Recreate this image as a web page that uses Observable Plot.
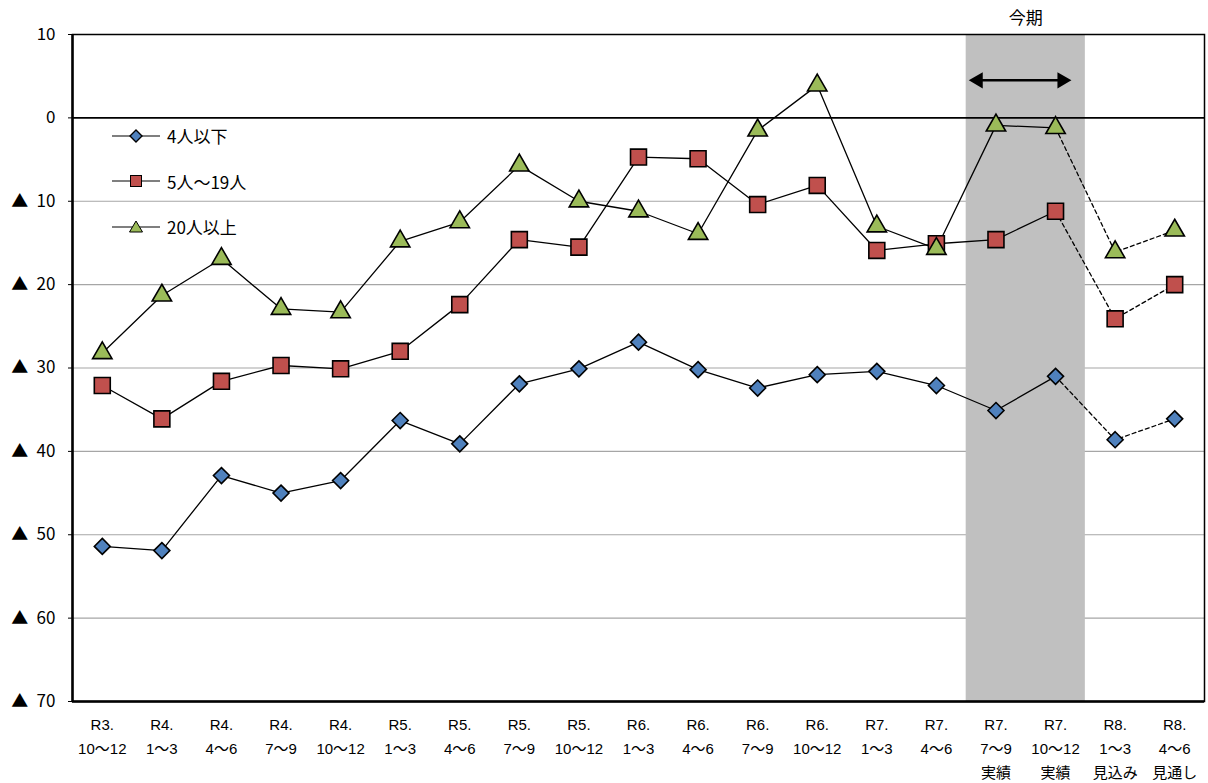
<!DOCTYPE html>
<html>
<head>
<meta charset="utf-8">
<script src="https://cdn.jsdelivr.net/npm/d3@7"></script>
<script src="https://cdn.jsdelivr.net/npm/@observablehq/plot@0.6"></script>
<style>
  body { margin: 0; background: #fff; }
  #wrap { position: relative; width: 1208px; height: 783px; font-family: "Liberation Sans", "Noto Sans CJK JP", sans-serif; }
  .legend { position: absolute; left: 112px; top: 113px; font-size: 17px; color: #000; font-family: "Noto Sans CJK JP", sans-serif; }
  .legend .row { display: flex; align-items: center; height: 45.5px; }
  .legend svg { margin-right: 6px; }
  #wrap g[aria-label^="y-axis"], #wrap g[aria-label^="y-axis"] text { font-family: "Noto Sans CJK JP", sans-serif; font-size: 17px; }
</style>
</head>
<body>
<div id="wrap"></div>
<script>
// ---- data ----
const categories = [
  "R3.\n10～12", "R4.\n1～3", "R4.\n4～6", "R4.\n7～9", "R4.\n10～12",
  "R5.\n1～3", "R5.\n4～6", "R5.\n7～9", "R5.\n10～12",
  "R6.\n1～3", "R6.\n4～6", "R6.\n7～9", "R6.\n10～12",
  "R7.\n1～3", "R7.\n4～6", "R7.\n7～9\n実績", "R7.\n10～12\n実績",
  "R8.\n1～3\n見込み", "R8.\n4～6\n見通し"
];
const seriesNames = ["4人以下", "5人～19人", "20人以上"];
const small = [-51.4, -51.9, -42.9, -45.0, -43.5, -36.3, -39.1, -31.9, -30.1, -26.9, -30.2, -32.4, -30.8, -30.4, -32.1, -35.1, -31.0, -38.6, -36.1];
const medium = [-32.1, -36.1, -31.6, -29.7, -30.1, -28.0, -22.4, -14.6, -15.5, -4.7, -4.9, -10.4, -8.1, -15.9, -15.1, -14.6, -11.2, -24.1, -20.0];
const large = [-28.2, -21.3, -16.9, -22.9, -23.3, -14.8, -12.5, -5.7, -10.0, -11.2, -13.9, -1.5, 3.9, -13.0, -15.7, -0.9, -1.2, -16.1, -13.5];
const yTicks = [10, 0, -10, -20, -30, -40, -50, -60, -70];
const gridTicks = [-10, -20, -30, -40, -50, -60];
const currentPeriod = ["R7.\n7～9\n実績", "R7.\n10～12\n実績"];
const currentLabel = "今期";
const lastActual = "R7.\n10～12\n実績";
const arrowSpan = [{x1: 14.70, x2: 16.11, y: 4.5}];

const symbols = ["diamond2", "square", "triangle"];
const fills = ["#4F81BD", "#C0504D", "#9BBB59"];
const radii = [7.2, 9.0, 7.2];

// ---- build tables ----
const allSeries = [small, medium, large];
const lastIdx = categories.indexOf(lastActual);
const rows = [];
allSeries.forEach((vals, s) => vals.forEach((v, i) => rows.push({i, v, s: seriesNames[s], k: s})));
const solid = rows.filter(d => d.i <= lastIdx);
const dashed = rows.filter(d => d.i >= lastIdx);
const band = currentPeriod.map(c => categories.indexOf(c));
const bandRect = [{x1: d3.min(band) - 0.5, x2: d3.max(band) + 0.5}];
const catRows = categories.map((c, i) => ({i, c}));

const fontFam = '"Liberation Sans", "Noto Sans CJK JP", sans-serif';

const chart = Plot.plot({
  width: 1208,
  height: 783,
  marginLeft: 72,
  marginRight: 4,
  marginTop: 34,
  marginBottom: 82,
  style: {fontFamily: fontFam, fontSize: "17px", background: "#fff", overflow: "visible"},
  x: {domain: [-0.5, categories.length - 0.5], axis: null},
  y: {
    domain: [-70, 10],
    ticks: yTicks,
    tickFormat: d => d < 0 ? "▲\u2002" + (-d) : String(d),
    tickSize: 4,
    tickPadding: 13,
    label: null
  },
  marks: [
    Plot.ruleY(gridTicks, {stroke: "#a6a6a6", strokeWidth: 1.2}),
    Plot.rect(bandRect, {x1: "x1", x2: "x2", y1: -70, y2: 10, fill: "#c0c0c0"}),
    Plot.ruleY([0], {stroke: "#000", strokeWidth: 1.6}),
    Plot.frame({stroke: "#000", strokeWidth: 1.5}),
    Plot.ruleX([-0.5], {stroke: "#000", strokeWidth: 2.5}),
    Plot.ruleY([-70], {stroke: "#000", strokeWidth: 2.5}),
    // current period annotation
    Plot.text(bandRect, {x: d => (d.x1 + d.x2) / 2, y: 10, text: () => currentLabel, dy: -16, fontSize: 17, fontFamily: "Noto Sans CJK JP", fill: "#000"}),
    Plot.link(arrowSpan, {x1: "x1", x2: "x2", y1: "y", y2: "y", stroke: "#000", strokeWidth: 2.5}),
    Plot.dot(arrowSpan, {x: "x1", y: "y", symbol: "triangle", r: 6, fill: "#000", stroke: "none", rotate: -90}),
    Plot.dot(arrowSpan, {x: "x2", y: "y", symbol: "triangle", r: 6, fill: "#000", stroke: "none", rotate: 90}),
    // lines
    Plot.line(solid, {x: "i", y: "v", z: "s", stroke: "#000", strokeWidth: 1.3}),
    Plot.line(dashed, {x: "i", y: "v", z: "s", stroke: "#000", strokeWidth: 1.3, strokeDasharray: "4,3"}),
    // markers
    ...[0, 1, 2].map(k => Plot.dot(rows.filter(d => d.k === k), {
      x: "i", y: "v", symbol: symbols[k], r: radii[k], fill: fills[k], stroke: "#000", strokeWidth: 1.6
    })),
    // x labels
    Plot.text(catRows, {x: "i", y: -70, text: "c", lineAnchor: "top", dy: 11, fontSize: 15, lineHeight: 1.6, fill: "#000"})
  ]
});

const wrap = document.getElementById("wrap");
wrap.appendChild(chart);

// legend
const legend = document.createElement("div");
legend.className = "legend";
const shapes = [
  f => `<path d="M24,4 L30,10 L24,16 L18,10 Z" fill="${f}" stroke="#000" stroke-width="1.4"/>`,
  f => `<rect x="18.5" y="4.5" width="11" height="11" fill="${f}" stroke="#000" stroke-width="1"/>`,
  f => `<path d="M24,4 L30.5,15 L17.5,15 Z" fill="${f}" stroke="#000" stroke-width="1"/>`
];
seriesNames.forEach((name, k) => {
  const row = document.createElement("div");
  row.className = "row";
  row.innerHTML = `<svg width="49" height="20"><line x1="0" x2="48" y1="10" y2="10" stroke="#000" stroke-width="1.2"/>${shapes[k](fills[k])}</svg><span>${name}</span>`;
  legend.appendChild(row);
});
wrap.appendChild(legend);
</script>
</body>
</html>
